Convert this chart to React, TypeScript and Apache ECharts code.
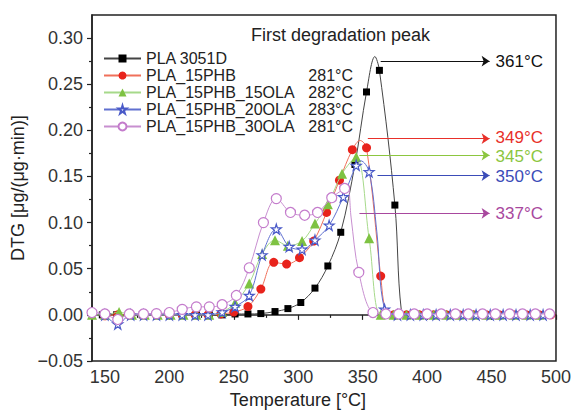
import React, { useEffect, useRef } from 'react';
import * as echarts from 'echarts';

const xTickLabels = [150, 200, 250, 300, 350, 400, 450, 500];
const xMinorTicks = [175, 225, 275, 325, 375, 425, 475];
const yTickLabels = [-0.05, 0, 0.05, 0.1, 0.15, 0.2, 0.25, 0.3];
const yMinorTicks = [-0.025, 0.025, 0.075, 0.125, 0.175, 0.225, 0.275];

const seriesNames = ['PLA 3051D', 'PLA_15PHB', 'PLA_15PHB_15OLA', 'PLA_15PHB_20OLA', 'PLA_15PHB_30OLA'];
const legendTemps = ['', '281°C', '282°C', '283°C', '281°C'];
const peakLabels = ['361°C', '349°C', '345°C', '350°C', '337°C'];
const peakArrowY = [0.275, 0.191, 0.173, 0.151, 0.11];
const peakArrowStart = [364, 354, 347.5, 361.5, 347.5];
const peakArrowEnd = 448.5;
const peakLabelShift = [0, -1.5, 1.5, 0.5, 0];

const tempBlack = [148, 159, 169, 179, 190, 200, 210, 221, 231, 241, 251, 261, 271, 282, 292, 302, 313, 323, 333, 344, 353, 363, 375, 385, 395, 406, 416, 426, 437, 447, 457, 468, 478, 488];
const dtgBlack = [0, 0, 0, 0, 0, 0, 0, 0, 0, 0, 0.001, 0.001, 0.0014, 0.0036, 0.0068, 0.0134, 0.029, 0.053, 0.0895, 0.163, 0.2416, 0.265, 0.119, 0, 0, 0, 0, 0, 0, 0, 0, 0, 0, 0];
const curveBlack = [[359.5, 0.28], [380, 0.005]];

const tempRed = [150, 160, 170, 180, 190, 200, 210, 220, 230, 240, 250, 261, 271, 281, 291, 301, 312, 322, 332, 342, 353, 364, 374, 384, 394, 405, 415, 425, 436, 446, 456, 467, 477, 487, 496];
const dtgRed = [-0.001, 0, 0, 0, 0, 0, 0, 0, 0, 0.001, 0.003, 0.009, 0.028, 0.057, 0.055, 0.062, 0.08, 0.111, 0.146, 0.179, 0.181, 0.042, 0, 0, 0, 0, 0, 0, 0, 0, 0, 0, 0, 0, 0];
const curveRed = [[348, 0.189], [368, 0.004]];

const tempGreen = [140, 150, 161, 171, 181, 191, 201, 211, 221, 231, 241, 251, 262, 272, 282, 292, 303, 313, 323, 334, 345, 355, 364, 374, 384, 394, 405, 415, 425, 436, 446, 456, 467, 477, 487];
const dtgGreen = [0, 0, 0.003, 0, 0, 0, 0, 0, 0, 0, 0.003, 0.013, 0.034, 0.066, 0.081, 0.075, 0.08, 0.099, 0.12, 0.153, 0.171, 0.083, 0, 0, 0, 0, 0, 0, 0, 0, 0, 0, 0, 0, 0];
const curveGreen: number[][] = [];

const tempBlue = [150, 160, 170, 180, 190, 200, 210, 220, 230, 241, 251, 262, 272, 283, 293, 303, 313, 324, 335, 345, 355, 367, 377, 387, 397, 407, 418, 428, 438, 449, 459, 469, 480, 490];
const dtgBlue = [0, -0.01, 0, 0, 0, 0, 0, 0, 0, 0.003, 0.009, 0.021, 0.065, 0.093, 0.074, 0.071, 0.081, 0.097, 0.128, 0.162, 0.155, 0.006, 0, 0, 0, 0, 0, 0, 0, 0, 0, 0, 0, 0];
const curveBlue = [[348.5, 0.167], [361, 0.09]];

const tempPurple = [140, 150, 160, 169, 180, 190, 200, 210, 221, 231, 241, 252, 262, 273, 283, 294, 305, 315, 326, 336, 347, 358, 368, 378, 390, 400, 411, 422, 432, 443, 453, 464, 474, 484, 495];
const dtgPurple = [0.0025, 0.001, -0.005, 0.001, 0.001, 0.0014, 0.0025, 0.006, 0.0087, 0.0087, 0.011, 0.021, 0.051, 0.1, 0.126, 0.111, 0.108, 0.111, 0.127, 0.137, 0.046, 0.0025, 0.001, 0.001, 0.001, 0.001, 0.001, 0.001, 0.001, 0.001, 0.001, 0.001, 0.001, 0.001, 0.001];
const curvePurple = [[338.5, 0.139], [341, 0.106]];

const lineColors = ['#444444', '#f0705a', '#a6d98a', '#6070d0', '#c88fd0'];
const markerFill = ['#000000', '#e8231c', '#7ec242', '#ffffff', '#ffffff'];
const markerBorder = ['#000000', '#e8231c', '#7ec242', '#4a5ac8', '#c47ccc'];
const labelColors = ['#111111', '#e8302a', '#8cc63f', '#3b4cb8', '#a8489e'];
const symbols = ['rect', 'circle', 'triangle', 'path://M50,0 L61,35 L98,35 L68,57 L79,91 L50,70 L21,91 L32,57 L2,35 L39,35 Z', 'circle'];
const symbolSizes = [7, 9, 10, 10, 10];

const FONT = '"Liberation Sans", Arial, sans-serif';

function buildData(temps: number[], vals: number[], curve: number[][]) {
  const pts: any[] = temps.map((t, i) => ({ value: [t, vals[i]] }));
  curve.forEach((p) => pts.push({ value: [p[0], p[1]], symbol: 'none' }));
  pts.sort((a, b) => a.value[0] - b.value[0]);
  return pts;
}

export default function App() {
  const ref = useRef<HTMLDivElement>(null);
  useEffect(() => {
    if (!ref.current) return;
    const chart = echarts.init(ref.current, undefined, { renderer: 'svg' });
    const datasets = [
      buildData(tempBlack, dtgBlack, curveBlack),
      buildData(tempRed, dtgRed, curveRed),
      buildData(tempGreen, dtgGreen, curveGreen),
      buildData(tempBlue, dtgBlue, curveBlue),
      buildData(tempPurple, dtgPurple, curvePurple),
    ];
    const series = seriesNames.map((name, i) => ({
      name,
      type: 'line',
      xAxisIndex: 0,
      yAxisIndex: 0,
      data: datasets[i],
      smooth: 0.35,
      symbol: symbols[i],
      symbolSize: symbolSizes[i],
      showAllSymbol: true,
      lineStyle: { color: lineColors[i], width: 1 },
      itemStyle: { color: markerFill[i], borderColor: markerBorder[i], borderWidth: i >= 3 ? 1.2 : 0 },
      emphasis: { disabled: true },
      z: 2 + i,
      markLine: {
        silent: true,
        symbol: ['none', 'arrow'],
        symbolSize: 8,
        lineStyle: { color: labelColors[i], width: 1, type: 'solid' },
        label: {
          show: true,
          position: 'end',
          formatter: peakLabels[i],
          color: labelColors[i],
          fontSize: 17,
          lineHeight: 15,
          fontFamily: FONT,
          distance: 6,
          offset: [0, peakLabelShift[i]],
        },
        data: [[{ coord: [peakArrowStart[i], peakArrowY[i]] }, { coord: [peakArrowEnd, peakArrowY[i]] }]],
      },
    }));

    chart.setOption({
      animation: false,
      textStyle: { fontFamily: FONT },
      title: {
        text: 'First degradation peak',
        left: 251,
        top: 26,
        padding: 0,
        textStyle: { fontSize: 18, fontWeight: 'normal', color: '#222', fontFamily: FONT },
      },
      grid: { left: 92, right: 14, top: 15, bottom: 55, show: true, borderColor: '#222', borderWidth: 1.5, backgroundColor: 'transparent' },
      legend: {
        orient: 'vertical',
        left: 103,
        top: 50,
        padding: 0,
        itemGap: 0,
        itemWidth: 37,
        itemHeight: 10,
        data: seriesNames,
        formatter: (name: string) => {
          const i = seriesNames.indexOf(name);
          return legendTemps[i] ? `{n|${name}}{t|${legendTemps[i]}}` : `{n|${name}}`;
        },
        textStyle: {
          fontSize: 16,
          color: '#222',
          fontFamily: FONT,
          lineHeight: 17,
          rich: {
            n: { width: 163, fontSize: 16, fontFamily: FONT, color: '#222', lineHeight: 17 },
            t: { width: 44, align: 'right', fontSize: 16, fontFamily: FONT, color: '#222', lineHeight: 17 },
          },
        },
      },
      xAxis: [
        {
          type: 'value',
          min: 140,
          max: 500,
          name: 'Temperature [°C]',
          nameLocation: 'middle',
          nameGap: 30,
          nameTextStyle: { fontSize: 18, color: '#222', fontFamily: FONT, padding: [0, 52, 0, 0] },
          axisLine: { show: true, lineStyle: { color: '#222', width: 1.5 } },
          axisTick: { show: true, inside: false, length: 5, customValues: xTickLabels, lineStyle: { color: '#222', width: 1.2 } },
          axisLabel: { show: true, customValues: xTickLabels, fontSize: 18, color: '#333', margin: 7, fontFamily: FONT },
          splitLine: { show: false },
        },
        {
          type: 'value',
          min: 140,
          max: 500,
          position: 'bottom',
          axisLine: { show: false },
          axisTick: { show: true, inside: false, length: 3, customValues: xMinorTicks, lineStyle: { color: '#222', width: 1.2 } },
          axisLabel: { show: false },
          splitLine: { show: false },
        },
      ],
      yAxis: [
        {
          type: 'value',
          min: -0.05,
          max: 0.325,
          name: 'DTG [μg/(μg·min)]',
          nameLocation: 'middle',
          nameGap: 60,
          nameTextStyle: { fontSize: 18, color: '#222', fontFamily: FONT },
          axisLine: { show: true, lineStyle: { color: '#222', width: 1.5 } },
          axisTick: { show: true, inside: false, length: 5, customValues: yTickLabels, lineStyle: { color: '#222', width: 1.2 } },
          axisLabel: {
            show: true,
            customValues: yTickLabels,
            fontSize: 18,
            color: '#333',
            margin: 9,
            fontFamily: FONT,
            formatter: (v: number) => v.toFixed(2).replace('-', '\u2212'),
          },
          splitLine: { show: false },
        },
        {
          type: 'value',
          min: -0.05,
          max: 0.325,
          position: 'left',
          axisLine: { show: false },
          axisTick: { show: true, inside: false, length: 3, customValues: yMinorTicks, lineStyle: { color: '#222', width: 1.2 } },
          axisLabel: { show: false },
          splitLine: { show: false },
        },
      ],
      series,
    });
    return () => chart.dispose();
  }, []);
  return <div ref={ref} style={{ position: 'fixed', left: 0, top: 0, width: 574, height: 416, background: '#fff' }} />;
}
